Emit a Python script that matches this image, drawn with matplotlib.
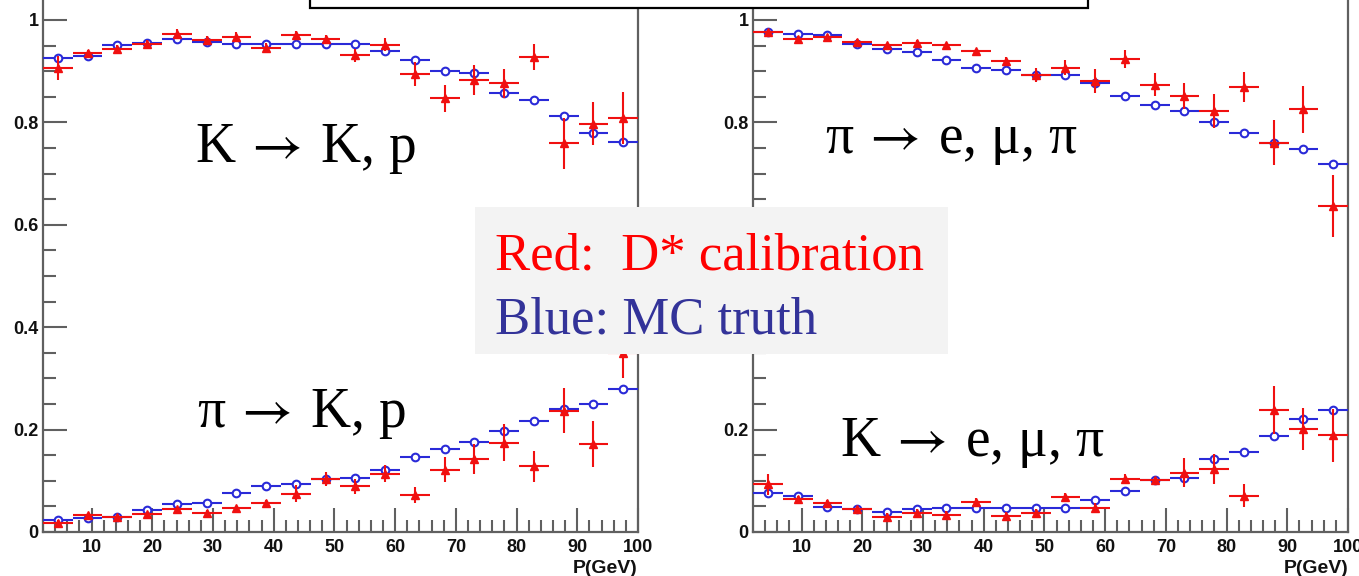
import matplotlib
matplotlib.use("Agg")
import matplotlib.pyplot as plt
from matplotlib.patches import Rectangle
from matplotlib.font_manager import FontProperties
from matplotlib.ticker import MultipleLocator, FixedLocator, FixedFormatter

plt.rcParams["mathtext.fontset"] = "stix"

# momentum bins (GeV): 20 bins between 2 and 100
p_centers = [4.45, 9.35, 14.25, 19.15, 24.05, 28.95, 33.85, 38.75, 43.65, 48.55,
             53.45, 58.35, 63.25, 68.15, 73.05, 77.95, 82.85, 87.75, 92.65, 97.55]
p_halfwidth = 2.45

# K -> K, p  (left panel, top)
kk_mc = [0.925, 0.930, 0.952, 0.956, 0.963, 0.957, 0.954, 0.954, 0.954, 0.954,
         0.954, 0.939, 0.921, 0.900, 0.896, 0.858, 0.844, 0.813, 0.780, 0.761]
kk_dstar = [0.906, 0.935, 0.943, 0.954, 0.972, 0.961, 0.967, 0.945, 0.970, 0.962,
            0.931, 0.952, 0.895, 0.847, 0.883, 0.876, 0.928, 0.759, 0.797, 0.808]
kk_dstar_err = [0.023, 0.006, 0.008, 0.006, 0.010, 0.008, 0.010, 0.010, 0.008, 0.008,
                0.013, 0.012, 0.023, 0.026, 0.029, 0.029, 0.025, 0.050, 0.042, 0.051]

# pi -> K, p  (left panel, bottom)
pik_mc = [0.023, 0.027, 0.030, 0.043, 0.055, 0.057, 0.077, 0.090, 0.094, 0.104,
          0.105, 0.121, 0.146, 0.163, 0.176, 0.198, 0.217, 0.240, 0.250, 0.280]
pik_dstar = [0.018, 0.033, 0.030, 0.035, 0.044, 0.038, 0.046, 0.056, 0.075, 0.104,
             0.089, 0.114, 0.072, 0.122, 0.143, 0.174, 0.128, 0.237, 0.172, 0.350]
pik_dstar_err = [0.005, 0.005, 0.005, 0.005, 0.005, 0.005, 0.005, 0.006, 0.016, 0.014,
                 0.014, 0.016, 0.016, 0.025, 0.029, 0.036, 0.031, 0.044, 0.045, 0.050]

# pi -> e, mu, pi  (right panel, top)
pipi_mc = [0.976, 0.972, 0.971, 0.953, 0.943, 0.938, 0.921, 0.907, 0.902, 0.893,
           0.893, 0.876, 0.852, 0.834, 0.822, 0.800, 0.780, 0.760, 0.749, 0.718]
pipi_dstar = [0.976, 0.963, 0.966, 0.958, 0.951, 0.956, 0.951, 0.939, 0.919, 0.893,
              0.907, 0.881, 0.924, 0.874, 0.852, 0.823, 0.869, 0.760, 0.826, 0.637]
pipi_dstar_err = [0.005, 0.005, 0.005, 0.005, 0.005, 0.005, 0.005, 0.005, 0.008, 0.014,
                  0.014, 0.023, 0.018, 0.023, 0.025, 0.033, 0.029, 0.044, 0.046, 0.060]

# K -> e, mu, pi  (right panel, bottom)
kpi_mc = [0.0755, 0.070, 0.049, 0.044, 0.039, 0.044, 0.047, 0.047, 0.047, 0.047,
          0.046, 0.0625, 0.080, 0.1016, 0.105, 0.1426, 0.157, 0.1875, 0.2207, 0.238]
kpi_dstar = [0.093, 0.064, 0.056, 0.045, 0.029, 0.038, 0.033, 0.058, 0.031, 0.037,
             0.069, 0.047, 0.1035, 0.101, 0.116, 0.1224, 0.071, 0.238, 0.2005, 0.189]
kpi_dstar_err = [0.020, 0.006, 0.006, 0.006, 0.008, 0.006, 0.008, 0.008, 0.008, 0.008,
                 0.008, 0.010, 0.010, 0.006, 0.029, 0.029, 0.023, 0.047, 0.041, 0.052]

mc_err = 0.003

ytick_vals = [0, 0.2, 0.4, 0.6, 0.8, 1.0]
ytick_labels = ["0", "0.2", "0.4", "0.6", "0.8", "1"]
xtick_vals = [10, 20, 30, 40, 50, 60, 70, 80, 90, 100]

RED = "#f01010"
BLUE = "#2a2ad8"
AXCOL = "#606060"
SANS = ["Liberation Sans", "DejaVu Sans"]
SERIF = ["Liberation Serif", "DejaVu Serif"]
ARROW = r"$\:\rightarrow\:$"

fig = plt.figure(figsize=(13.59, 5.76), dpi=100)


def draw_panel(ax, top_mc, top_d, top_err, bot_mc, bot_d, bot_err):
    for mc in (top_mc, bot_mc):
        ax.errorbar(p_centers, mc, xerr=p_halfwidth, yerr=mc_err, fmt="o", color=BLUE,
                    mfc="white", mec=BLUE, ms=5.5, mew=1.5, lw=1.5, capsize=0, zorder=3)
    for d, e in ((top_d, top_err), (bot_d, bot_err)):
        ax.errorbar(p_centers, d, xerr=p_halfwidth, yerr=e, fmt="^", color=RED,
                    mfc=RED, mec=RED, ms=6, lw=1.5, capsize=0, zorder=4)
    ax.set_xlim(2, 100)
    ax.set_ylim(0, 1.06)
    ax.xaxis.set_major_locator(FixedLocator(xtick_vals))
    ax.xaxis.set_minor_locator(MultipleLocator(2))
    ax.yaxis.set_major_locator(FixedLocator(ytick_vals))
    ax.yaxis.set_major_formatter(FixedFormatter(ytick_labels))
    ax.yaxis.set_minor_locator(MultipleLocator(0.05))
    ax.tick_params(which="both", direction="in", color=AXCOL, width=1.5)
    ax.tick_params(which="major", length=17)
    ax.tick_params(which="minor", length=9)
    ax.tick_params(axis="x", which="major", pad=5)
    ax.tick_params(axis="y", which="major", pad=3)
    fp = FontProperties(family=SANS, weight="bold", size=13)
    for lab in ax.get_xticklabels() + ax.get_yticklabels():
        lab.set_fontproperties(fp)
        lab.set_color("#111111")
    for s in ax.spines.values():
        s.set_color(AXCOL)
        s.set_linewidth(1.6)
    ax.text(1.0, -0.052, "P(GeV)", transform=ax.transAxes, ha="right", va="top",
            fontsize=14, fontweight="bold", family=SANS, color="#111111")


ax1 = fig.add_axes([43 / 1359, 44 / 576, 595 / 1359, 1.06 * 512 / 576])
ax2 = fig.add_axes([753 / 1359, 44 / 576, 595 / 1359, 1.06 * 512 / 576])

draw_panel(ax1, kk_mc, kk_dstar, kk_dstar_err, pik_mc, pik_dstar, pik_dstar_err)
draw_panel(ax2, pipi_mc, pipi_dstar, pipi_dstar_err, kpi_mc, kpi_dstar, kpi_dstar_err)

label_style = dict(fontsize=40, family=SERIF, color="black", zorder=5)
ax1.text(27.0, 0.723, "K" + ARROW + "K, p", **label_style)
ax1.text(27.3, 0.206, "\u03c0" + ARROW + "K, p", **label_style)
ax2.text(13.9, 0.740, "\u03c0" + ARROW + "e, \u03bc, \u03c0", **label_style)
ax2.text(16.3, 0.148, "K" + ARROW + "e, \u03bc, \u03c0", **label_style)

# legend box in the middle
fig.add_artist(Rectangle((475 / 1359, (576 - 354) / 576), 473 / 1359, 147 / 576,
                         transform=fig.transFigure, facecolor="#f3f3f3", edgecolor="none", zorder=10))
fig.text(495 / 1359, (576 - 270) / 576, "Red:  D* calibration", fontsize=38, family=SERIF,
         color="#ff0000", va="baseline", zorder=11)
fig.text(495 / 1359, (576 - 333) / 576, "Blue: MC truth", fontsize=38, family=SERIF,
         color="#333399", va="baseline", zorder=11)

# title frame cut off at the top
fig.add_artist(Rectangle((310 / 1359, (576 - 8) / 576), 778 / 1359, 0.1,
                         transform=fig.transFigure, facecolor="white", edgecolor="black",
                         linewidth=1.6, zorder=10))

fig.savefig("out.png", dpi=100)
